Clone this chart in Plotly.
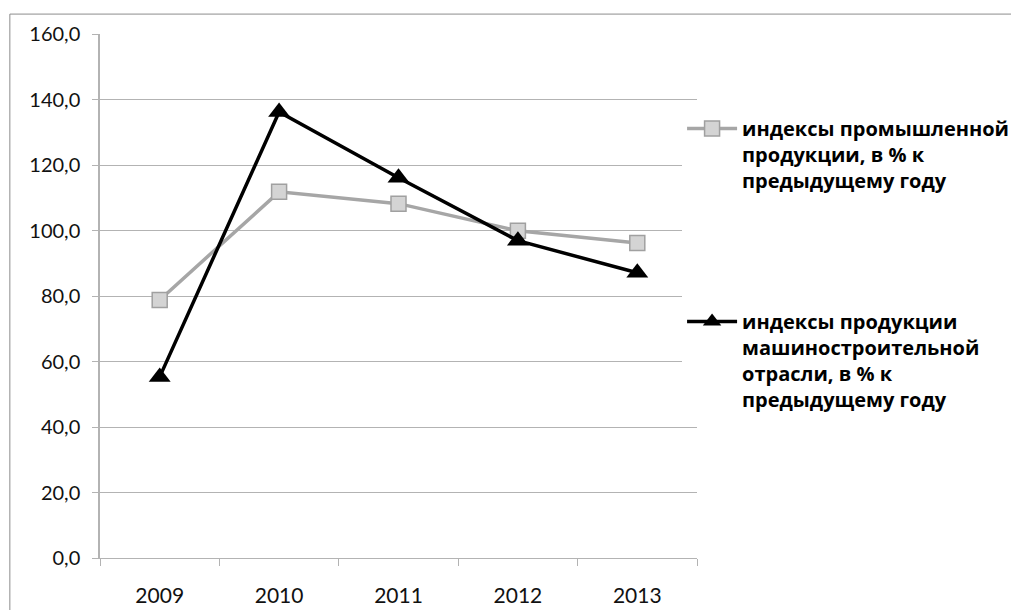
import plotly.graph_objects as go

years = ["2009", "2010", "2011", "2012", "2013"]
industrial = [78.8, 111.8, 108.2, 99.9, 96.2]
machinery = [55.3, 136.2, 116.1, 96.9, 87.1]

name_industrial = "индексы промышленной<br>продукции, в % к<br>предыдущему году"
name_machinery = "индексы продукции<br>машиностроительной<br>отрасли, в % к<br>предыдущему году"

GRID = "#b3b3b3"
FONT = "Lato, Open Sans, sans-serif"

fig = go.Figure()

fig.add_trace(go.Scatter(
    x=years, y=industrial, name=name_industrial,
    mode="lines+markers", legendgroup="a",
    line={"color": "#a6a6a6", "width": 3.5},
    marker={"symbol": "square", "size": 15, "color": "#d4d4d4",
            "line": {"color": "#a0a0a0", "width": 1.5}},
))

fig.add_trace(go.Scatter(
    x=years, y=machinery, name=name_machinery,
    mode="lines+markers", legendgroup="b",
    line={"color": "#000000", "width": 3.5},
    marker={"symbol": "triangle-up", "size": 19, "color": "#000000"},
))

# рамка области диаграммы
fig.add_shape(type="rect", xref="paper", yref="paper",
              x0=-0.151, x1=1.6, y0=-0.2, y1=1.038,
              line={"color": "#8c8c8c", "width": 1}, layer="below")

# body страницы даёт отступ 8px, поэтому поля уменьшены на 8
fig.update_layout(
    width=1011, height=602,
    margin={"l": 92, "r": 322, "t": 26, "b": 52, "autoexpand": False},
    plot_bgcolor="#ffffff", paper_bgcolor="#ffffff",
    font={"family": FONT, "size": 20, "color": "#000000"},
    separators=", ",
    showlegend=True,
    legend={
        "x": 0.975, "xanchor": "left", "y": 0.857, "yanchor": "top",
        "valign": "top", "traceorder": "grouped", "tracegroupgap": 112,
        "itemwidth": 50,
        "font": {"family": "Open Sans, sans-serif", "size": 20,
                 "color": "#000000", "weight": "bold"},
    },
    xaxis={
        "type": "category", "range": [-0.5, 4.5],
        "tickson": "boundaries", "ticks": "outside",
        "ticklen": 7, "tickcolor": GRID, "showline": True, "linecolor": GRID,
        "showgrid": False, "ticklabelstandoff": 19,
        "tickfont": {"size": 21, "color": "#111111"},
    },
    yaxis={
        "range": [0, 160], "dtick": 20, "tickformat": ".1f",
        "ticks": "outside", "ticklen": 6, "tickcolor": GRID,
        "showline": True, "linecolor": GRID, "linewidth": 1.5,
        "gridcolor": GRID, "gridwidth": 1, "zeroline": False,
        "ticklabelstandoff": 8, "tickfont": {"size": 20, "color": "#111111"},
    },
)

fig.write_html("out.html")
